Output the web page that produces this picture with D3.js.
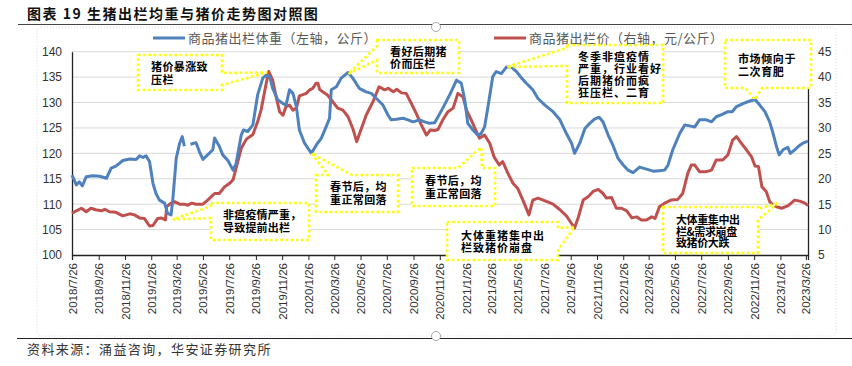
<!DOCTYPE html>
<html><head><meta charset="utf-8">
<script src="https://cdn.jsdelivr.net/npm/d3@7"></script>
<style>body{margin:0;background:#fff}svg{display:block}</style>
</head><body>
<svg id="c" width="852" height="366"></svg>
<script>
// ---------- DATA ----------
const titleText = "图表 19 生猪出栏均重与猪价走势图对照图";
const sourceText = "资料来源：涌益咨询，华安证券研究所";
const seriesNames = ["商品猪出栏体重（左轴，公斤）", "商品猪出栏价（右轴，元/公斤）"];

const weightDates = ["2018-07-26","2018-08-05","2018-08-12","2018-08-19","2018-08-28","2018-09-12","2018-09-28","2018-10-14","2018-10-25","2018-11-05","2018-11-21","2018-12-07","2018-12-22","2018-12-30","2019-01-07","2019-01-14","2019-01-22","2019-01-30","2019-02-06","2019-02-14","2019-02-26","2019-03-05","2019-03-13","2019-03-17","2019-03-25","2019-04-02","2019-04-08","2019-04-13","2019-04-20","2019-04-27","2019-05-10","2019-05-18","2019-05-26","2019-06-06","2019-06-18","2019-06-22","2019-07-03","2019-07-11","2019-07-23","2019-08-04","2019-08-11","2019-08-23","2019-08-28","2019-09-07","2019-09-19","2019-09-30","2019-10-12","2019-10-20","2019-10-28","2019-11-04","2019-11-16","2019-11-28","2019-12-05","2019-12-13","2019-12-21","2019-12-29","2020-01-05","2020-01-17","2020-02-02","2020-02-13","2020-02-25","2020-03-07","2020-03-15","2020-03-19","2020-03-31","2020-04-11","2020-04-27","2020-05-08","2020-05-23","2020-06-08","2020-06-20","2020-07-02","2020-07-17","2020-07-29","2020-08-05","2020-08-17","2020-09-02","2020-09-13","2020-09-25","2020-10-10","2020-10-22","2020-11-02","2020-11-14","2020-11-22","2020-12-03","2020-12-19","2021-01-04","2021-01-15","2021-01-23","2021-01-30","2021-02-11","2021-02-22","2021-03-02","2021-03-10","2021-03-18","2021-03-29","2021-04-06","2021-04-18","2021-04-30","2021-05-11","2021-05-23","2021-06-04","2021-06-15","2021-06-30","2021-07-12","2021-07-28","2021-08-16","2021-09-01","2021-09-16","2021-09-28","2021-10-05","2021-10-17","2021-10-29","2021-11-09","2021-11-21","2021-12-01","2021-12-10","2021-12-22","2022-01-02","2022-01-14","2022-01-26","2022-02-06","2022-02-18","2022-03-05","2022-03-21","2022-04-05","2022-04-20","2022-05-02","2022-05-10","2022-05-21","2022-06-06","2022-06-18","2022-06-29","2022-07-11","2022-07-22","2022-08-07","2022-08-19","2022-08-30","2022-09-14","2022-09-26","2022-10-06","2022-10-16","2022-10-31","2022-11-16","2022-11-28","2022-12-09","2022-12-21","2023-01-01","2023-01-09","2023-01-17","2023-01-23","2023-02-01","2023-02-12","2023-02-18","2023-02-28","2023-03-12","2023-03-19","2023-03-31"];
const weightValues = [115.7,113.8,114.4,113.6,115.4,115.6,115.5,115.1,117.1,117.5,118.6,118.9,118.8,119.5,119.2,119.5,118.4,114.1,112.1,110.8,110.2,108.2,107.9,110.8,119.0,122.0,123.3,121.4,null,121.8,122.1,120.3,118.8,119.7,120.7,123.0,121.4,119.7,118.6,116.7,118.0,123.6,124.6,124.3,125.6,131.5,134.8,135.4,135.1,132.8,130.5,129.8,129.5,132.5,131.8,129.2,124.6,122.0,120.0,121.6,123.0,125.2,126.9,132.5,133.1,134.8,135.9,134.8,132.8,132.1,131.8,130.8,129.5,127.5,126.6,126.7,126.9,126.6,126.2,126.6,126.2,125.9,126.0,127.2,128.9,131.5,134.4,133.8,130.5,125.9,124.6,123.6,123.9,125.2,129.2,135.1,136.1,135.7,137.0,137.0,136.1,134.8,133.8,132.5,130.8,129.5,128.2,126.6,123.9,122.0,120.0,122.0,124.9,125.9,126.8,127.1,126.2,123.6,121.6,119.0,117.7,116.7,116.2,117.3,116.9,116.5,116.6,116.7,117.7,120.7,123.9,125.6,125.4,125.2,126.6,126.6,126.2,127.2,127.7,128.2,128.2,129.2,129.8,130.3,130.6,129.5,128.2,126.2,123.9,121.3,119.7,120.7,121.2,120.0,120.7,121.6,122.0,122.4];

const priceDates = ["2018-07-26","2018-08-05","2018-08-17","2018-08-28","2018-09-08","2018-09-19","2018-10-02","2018-10-10","2018-10-21","2018-11-05","2018-11-21","2018-12-07","2018-12-18","2018-12-30","2019-01-10","2019-01-22","2019-01-30","2019-02-10","2019-02-18","2019-02-28","2019-03-03","2019-03-13","2019-03-21","2019-04-02","2019-04-13","2019-04-21","2019-04-30","2019-05-10","2019-05-26","2019-06-06","2019-06-22","2019-07-03","2019-07-15","2019-07-27","2019-08-04","2019-08-11","2019-08-23","2019-09-04","2019-09-19","2019-09-30","2019-10-08","2019-10-20","2019-10-26","2019-11-04","2019-11-12","2019-11-20","2019-11-28","2019-12-05","2019-12-13","2019-12-21","2019-12-29","2020-01-05","2020-01-21","2020-01-29","2020-02-05","2020-02-13","2020-02-17","2020-02-21","2020-02-28","2020-03-10","2020-03-22","2020-04-03","2020-04-15","2020-04-27","2020-05-08","2020-05-17","2020-05-28","2020-06-08","2020-06-24","2020-07-08","2020-07-21","2020-07-29","2020-08-10","2020-08-18","2020-08-29","2020-09-09","2020-09-21","2020-10-02","2020-10-14","2020-10-26","2020-11-04","2020-11-14","2020-11-22","2020-12-03","2020-12-15","2020-12-27","2021-01-07","2021-01-19","2021-01-27","2021-02-07","2021-02-19","2021-02-26","2021-03-10","2021-03-22","2021-04-01","2021-04-13","2021-04-21","2021-05-03","2021-05-15","2021-05-26","2021-06-07","2021-06-21","2021-06-30","2021-07-12","2021-07-24","2021-08-05","2021-08-16","2021-09-01","2021-09-16","2021-09-28","2021-10-05","2021-10-14","2021-10-25","2021-11-06","2021-11-17","2021-11-29","2021-12-10","2021-12-18","2021-12-30","2022-01-10","2022-01-22","2022-02-03","2022-02-15","2022-02-26","2022-03-09","2022-03-21","2022-04-02","2022-04-10","2022-04-20","2022-05-02","2022-05-17","2022-06-01","2022-06-13","2022-06-25","2022-07-03","2022-07-11","2022-07-22","2022-08-07","2022-08-19","2022-08-30","2022-09-14","2022-09-26","2022-10-07","2022-10-16","2022-10-27","2022-11-08","2022-11-20","2022-11-28","2022-12-06","2022-12-14","2022-12-24","2023-01-01","2023-01-09","2023-01-17","2023-01-29","2023-02-13","2023-02-28","2023-03-12","2023-03-24","2023-03-31"];
const priceValues = [13.2,13.7,14.2,13.5,14.2,13.9,13.7,14.0,13.5,13.4,12.7,13.1,12.9,12.3,12.2,10.7,10.8,12.2,12.3,11.9,14.5,15.2,15.5,15.0,15.0,14.8,15.2,15.0,15.0,15.8,17.1,17.1,18.4,19.1,19.8,22.1,26.0,27.8,28.7,31.2,33.5,38.8,41.1,39.4,36.1,33.2,32.5,34.2,34.5,33.5,33.9,36.3,36.8,37.5,37.8,38.8,38.8,37.6,37.1,36.5,35.2,33.9,33.5,32.2,29.9,27.3,29.9,32.5,35.2,38.1,37.5,37.8,37.1,37.6,36.9,36.8,34.8,32.9,30.6,28.6,29.6,29.5,29.7,31.6,33.2,33.9,36.8,36.1,33.5,31.6,29.3,28.0,28.6,27.0,24.3,22.7,23.4,21.1,19.1,18.1,15.8,12.9,15.8,16.2,15.8,15.4,15.0,13.9,12.7,11.2,10.3,12.5,15.8,16.5,17.5,17.9,17.1,16.2,16.3,14.2,14.2,13.7,12.3,12.5,11.9,11.9,12.5,12.2,14.5,15.2,15.8,15.9,17.1,21.1,22.7,22.7,21.4,21.4,21.7,23.7,23.7,24.7,27.6,28.3,27.0,25.7,24.3,22.5,22.4,18.4,17.5,15.5,14.8,14.5,14.2,14.7,15.8,15.6,15.2,14.7];

const xTickLabels = ["2018/7/26","2018/9/26","2018/11/26","2019/1/26","2019/3/26","2019/5/26","2019/7/26","2019/9/26","2019/11/26","2020/1/26","2020/3/26","2020/5/26","2020/7/26","2020/9/26","2020/11/26","2021/1/26","2021/3/26","2021/5/26","2021/7/26","2021/9/26","2021/11/26","2022/1/26","2022/3/26","2022/5/26","2022/7/26","2022/9/26","2022/11/26","2023/1/26","2023/3/26"];
const leftTicks = [100,105,110,115,120,125,130,135,140];
const rightTicks = [5,10,15,20,25,30,35,40,45];

// annotations: text lines, anchor (date, axis, value) of pointer tip
const noteTexts = [
  ["猪价暴涨致","压栏"],
  ["非瘟疫情严重，","导致提前出栏"],
  ["春节后，均","重正常回落"],
  ["看好后期猪","价而压栏"],
  ["春节后，均","重正常回落"],
  ["大体重猪集中出","栏致猪价崩盘"],
  ["冬季非瘟疫情","严重，行业看好","后期猪价而疯","狂压栏、二育"],
  ["市场倾向于","二次育肥"],
  ["大体重集中出","栏&需求崩盘","致猪价大跌"]
];
const noteTips = [
  ["2019-10-22","R",40.9],
  ["2019-03-17","L",107.0],
  ["2020-02-02","L",120.0],
  ["2020-04-27","L",135.6],
  ["2021-03-02","L",121.2],
  ["2021-10-05","R",10.5],
  ["2021-04-30","L",137.0],
  ["2022-11-28","L",130.6],
  ["2023-01-22","R",15.3]
];

// ---------- LAYOUT ----------
const svg = d3.select("#c");
const W = 852, H = 366;
const plot = {l: 72, r: 808, t: 51.7, b: 255};
const parse = d3.timeParse("%Y-%m-%d");
const parseTick = d3.timeParse("%Y/%m/%d");
const x = d3.scaleTime().domain([parse("2018-07-26"), parse("2023-03-31")]).range([plot.l, plot.r]);
const yL = d3.scaleLinear().domain([100, 140]).range([plot.b, plot.t]);
const yR = d3.scaleLinear().domain([5, 45]).range([plot.b, plot.t]);
const cjk = "'Noto Sans CJK SC', 'Noto Sans', sans-serif";
const num = "'Liberation Sans', Arial, sans-serif";

// frame lines
svg.append("line").attr("x1",18).attr("x2",W).attr("y1",24.5).attr("y2",24.5).attr("stroke","#444").attr("stroke-width",1);
svg.append("line").attr("x1",17).attr("x2",W).attr("y1",338.5).attr("y2",338.5).attr("stroke","#222").attr("stroke-width",1.2);
svg.append("rect").attr("x",37).attr("y",27).attr("width",799).attr("height",309).attr("rx",4)
  .attr("fill","none").attr("stroke","#cfcfcf").attr("stroke-width",0.8).attr("stroke-dasharray","1,2");

// title
svg.append("text").attr("x",27).attr("y",19).text(titleText)
  .style("font-family",cjk).style("font-weight","bold").style("font-size","14px").style("letter-spacing","1.5px").attr("fill","#111");
// source
svg.append("text").attr("x",27).attr("y",354).text(sourceText)
  .style("font-family",cjk).style("font-size","13px").style("letter-spacing","1.4px").attr("fill","#333");

// gridlines
svg.append("g").selectAll("line").data(leftTicks.slice(1)).join("line")
  .attr("x1",plot.l).attr("x2",plot.r).attr("y1",d=>yL(d)).attr("y2",d=>yL(d))
  .attr("stroke","#d9d9d9").attr("stroke-width",1);

// left axis
const gL = svg.append("g").attr("transform",`translate(${plot.l},0)`)
  .call(d3.axisLeft(yL).tickValues(leftTicks).tickSize(0).tickPadding(10));
gL.select(".domain").attr("stroke","#222").attr("stroke-width",1.3);
gL.selectAll("text").style("font-family",num).style("font-size","12px").attr("fill","#333");

// right axis
const gR = svg.append("g").attr("transform",`translate(${plot.r},0)`)
  .call(d3.axisRight(yR).tickValues(rightTicks).tickSize(0).tickPadding(10));
gR.select(".domain").attr("stroke","#222").attr("stroke-width",1.3);
gR.selectAll("text").style("font-family",num).style("font-size","12px").attr("fill","#333");

// bottom axis
const gX = svg.append("g").attr("transform",`translate(0,${plot.b})`)
  .call(d3.axisBottom(x).tickValues(xTickLabels.map(parseTick)).tickSize(5).tickPadding(3)
    .tickFormat((d,i)=>xTickLabels[i]));
gX.select(".domain").attr("stroke","#222").attr("stroke-width",1.3);
gX.selectAll(".tick line").attr("stroke","#222");
gX.selectAll("text").style("font-family",num).style("font-size","11.5px").attr("fill","#333")
  .attr("text-anchor","end").attr("transform","rotate(-90)").attr("x",-8).attr("y",0).attr("dy","0.35em");

// series
const wData = weightDates.map((d,i)=>({d:parse(d), v:weightValues[i]}));
const pData = priceDates.map((d,i)=>({d:parse(d), v:priceValues[i]}));
const lineL = d3.line().defined(d=>d.v!=null).x(d=>x(d.d)).y(d=>yL(d.v));
const lineR = d3.line().defined(d=>d.v!=null).x(d=>x(d.d)).y(d=>yR(d.v));
svg.append("path").datum(pData).attr("d",lineR).attr("fill","none").attr("stroke","#C0504D").attr("stroke-width",3).attr("stroke-linejoin","round");
svg.append("path").datum(wData).attr("d",lineL).attr("fill","none").attr("stroke","#4F81BD").attr("stroke-width",3).attr("stroke-linejoin","round");

// legend
const lg = svg.append("g");
[[153,"#4F81BD",seriesNames[0]],[494,"#C0504D",seriesNames[1]]].forEach(([lx,c,t])=>{
  lg.append("line").attr("x1",lx).attr("x2",lx+32).attr("y1",38).attr("y2",38).attr("stroke",c).attr("stroke-width",3);
  lg.append("text").attr("x",lx+35).attr("y",42.5).text(t).style("font-family",cjk).style("font-size","13px")
    .style("letter-spacing","0.5px").attr("fill","#595959");
});

// callouts
const noteBoxes = [
  {b:[138,55,222,90], side:"right", a:[73,85], tx:151, ls:0.4, y0:71, dy:12.5},
  {b:[211,203,309,240], side:"left", a:[206,218], tx:223, ls:0.2, y0:219, dy:12.5},
  {b:[316,175,398,212], side:"top", a:[328,352], tx:330, ls:0.4, y0:191, dy:12.5},
  {b:[377,40,459,73], side:"left", a:[46,60], tx:390, ls:0.4, y0:56, dy:12},
  {b:[412,168,495,206], side:"top", a:[458,482], tx:425, ls:0.4, y0:185, dy:12.5},
  {b:[447,222,558,260], side:"right", a:[228,250], tx:461, ls:1.0, y0:240, dy:11.5},
  {b:[567,45,663,103], side:"left", a:[48,66], tx:578, ls:1.0, y0:61, dy:11.9},
  {b:[725,40,811,88], side:"bottom", a:[745,762], tx:738, ls:0.6, y0:63, dy:12.5},
  {b:[663,207,758,253], side:"right", a:[209,220], tx:676, ls:-0.4, y0:224, dy:11.5}
];
function calloutPath(b, t, side, a){
  const [x0,y0,x1,y1]=b, [tx,ty]=t;
  let p = `M${x0},${y0}`;
  if(side==="top") p += `L${a[0]},${y0}L${tx},${ty}L${a[1]},${y0}`;
  p += `L${x1},${y0}`;
  if(side==="right") p += `L${x1},${a[0]}L${tx},${ty}L${x1},${a[1]}`;
  p += `L${x1},${y1}`;
  if(side==="bottom") p += `L${a[1]},${y1}L${tx},${ty}L${a[0]},${y1}`;
  p += `L${x0},${y1}`;
  if(side==="left") p += `L${x0},${a[1]}L${tx},${ty}L${x0},${a[0]}`;
  return p + "Z";
}
const ng = svg.append("g");
noteBoxes.forEach((nb,i)=>{
  const tip = noteTips[i];
  const t = [x(parse(tip[0])), (tip[1]==="L"?yL:yR)(tip[2])];
  ng.append("path").attr("d",calloutPath(nb.b,t,nb.side,nb.a)).attr("fill","#fff")
    .attr("stroke","#FFFF00").attr("stroke-width",2.6).attr("stroke-dasharray","2.6,2.6");
  const tx = ng.append("text").style("font-family",cjk).style("font-size","11px").style("font-weight","bold")
    .style("letter-spacing",nb.ls+"px").attr("fill","#000");
  noteTexts[i].forEach((s,j)=>tx.append("tspan").attr("x",nb.tx).attr("y",nb.y0+j*nb.dy).text(s));
});

// selection handles of the embedded chart (faint)
[[436,27],[436,336]].forEach(([hx,hy])=>{
  svg.append("circle").attr("cx",hx).attr("cy",hy).attr("r",4.5).attr("fill","#fff").attr("stroke","#aaa").attr("stroke-width",1);
});
</script>
</body></html>
